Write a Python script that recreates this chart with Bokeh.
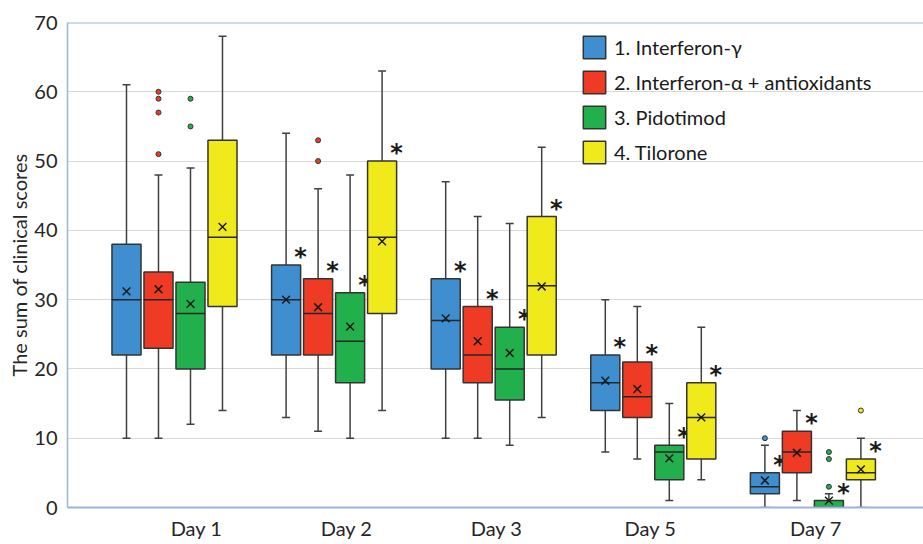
from bokeh.plotting import figure
from bokeh.models import (ColumnDataSource, Legend, LegendItem, FixedTicker,
                          SingleIntervalTicker, Span, Range1d)
from bokeh.core.properties import value
from bokeh.embed import file_html
from bokeh.resources import INLINE

# ---- data -------------------------------------------------------------
days = ["Day 1", "Day 2", "Day 3", "Day 5", "Day 7"]
groups = ["1. Interferon-γ", "2. Interferon-α + antioxidants",
          "3. Pidotimod", "4. Tilorone"]
colors = ["#3F8ECF", "#EF3B24", "#22B04C", "#F1EA1A"]

# one row per treatment group, one column per day
whisker_low = [[10, 13, 10, 8, 0],
               [10, 11, 10, 7, 1],
               [12, 10, 9, 1, 0],
               [14, 14, 13, 4, 0]]
q1 = [[22, 22, 20, 14, 2],
      [23, 22, 18, 13, 5],
      [20, 18, 15.5, 4, 0],
      [29, 28, 22, 7, 4]]
median = [[30, 30, 27, 18, 3],
          [30, 28, 22, 16, 8],
          [28, 24, 20, 8, 0],
          [39, 39, 32, 13, 5]]
q3 = [[38, 35, 33, 22, 5],
      [34, 33, 29, 21, 11],
      [32.5, 31, 26, 9, 1],
      [53, 50, 42, 18, 7]]
whisker_high = [[61, 54, 47, 30, 9],
                [48, 46, 42, 29, 14],
                [49, 48, 41, 15, 2],
                [68, 63, 52, 26, 10]]
mean = [[31.2, 30.0, 27.3, 18.3, 3.9],
        [31.5, 28.9, 24.0, 17.1, 7.9],
        [29.4, 26.1, 22.3, 7.1, 1.0],
        [40.5, 38.4, 31.9, 13.0, 5.5]]
# significant difference vs. Day 1 (marked with an asterisk)
significant = [[False, True, True, True, True],
               [False, True, True, True, True],
               [False, True, True, True, True],
               [False, True, True, True, True]]
# outliers: (group index, day index, value)
outlier_group = [1, 1, 1, 1, 2, 2, 1, 1, 0, 2, 2, 2, 3]
outlier_day = [0, 0, 0, 0, 0, 0, 1, 1, 4, 4, 4, 4, 4]
outlier_value = [60, 59, 57, 51, 59, 55, 53, 50, 10, 8, 7, 3, 14]

# ---- layout constants -------------------------------------------------
BOX_STEP = 0.2005   # distance between neighbouring boxes within a day
BOX_W = 0.182
CAP_W = 0.05
LABEL_X = [0.138, 1.078, 2.018, 2.982, 4.019]
FONT = "Lato"
BORDER = "#9DB3DB"
INK = "#262626"


def xpos(g, d):
    return d + (g - 1.5) * BOX_STEP


p = figure(width=923, height=544, output_backend="svg", toolbar_location=None,
           x_range=Range1d(-0.6704, 4.693), y_range=Range1d(0, 70),
           min_border_left=67, min_border_right=0, min_border_top=22,
           min_border_bottom=37)
p.outline_line_color = None
p.background_fill_color = "white"
p.border_fill_color = "white"

p.xgrid.grid_line_color = None
p.ygrid.grid_line_color = "#D9D9D9"
p.ygrid.grid_line_width = 1
p.yaxis.ticker = SingleIntervalTicker(interval=10)

p.yaxis.axis_label = "The sum of clinical scores"
p.yaxis.axis_label_text_font = FONT
p.yaxis.axis_label_text_font_size = "20px"
p.yaxis.axis_label_text_font_style = "normal"
p.yaxis.axis_label_text_color = INK
p.yaxis.axis_label_standoff = 0
p.yaxis.major_label_text_font = FONT
p.yaxis.major_label_text_font_size = "20px"
p.yaxis.major_label_text_color = INK
p.yaxis.axis_line_color = BORDER
p.yaxis.axis_line_width = 1.5
p.yaxis.major_tick_line_color = None
p.yaxis.minor_tick_line_color = None
p.yaxis.major_tick_out = 0
p.yaxis.major_tick_in = 0
p.yaxis.major_label_standoff = 6

p.xaxis.ticker = FixedTicker(ticks=LABEL_X)
p.xaxis.major_label_overrides = {t: d for t, d in zip(LABEL_X, days)}
p.xaxis.major_label_text_font = FONT
p.xaxis.major_label_text_font_size = "20px"
p.xaxis.major_label_text_color = INK
p.xaxis.axis_line_color = BORDER
p.xaxis.axis_line_width = 2
p.xaxis.major_tick_line_color = None
p.xaxis.minor_tick_line_color = None
p.xaxis.major_tick_out = 0
p.xaxis.major_tick_in = 0
p.xaxis.major_label_standoff = 8

p.add_layout(Span(location=70, dimension="width", line_color=BORDER,
                  line_width=2))

legend_items = []
for g in range(len(groups)):
    xs = [xpos(g, d) for d in range(len(days))]
    src = ColumnDataSource(dict(
        x=xs, lo=whisker_low[g], q1=q1[g], med=median[g], q3=q3[g],
        hi=whisker_high[g], mean=mean[g],
        cl=[x - CAP_W / 2 for x in xs], cr=[x + CAP_W / 2 for x in xs],
        bl=[x - BOX_W / 2 for x in xs], br=[x + BOX_W / 2 for x in xs],
    ))
    # whiskers and caps
    p.segment("x", "lo", "x", "q1", source=src, line_color="#404040", line_width=1.5)
    p.segment("x", "q3", "x", "hi", source=src, line_color="#404040", line_width=1.5)
    p.segment("cl", "lo", "cr", "lo", source=src, line_color="#404040", line_width=1.5)
    p.segment("cl", "hi", "cr", "hi", source=src, line_color="#404040", line_width=1.5)
    # box
    box = p.vbar(x="x", width=BOX_W, bottom="q1", top="q3", source=src,
                 fill_color=colors[g], line_color="#333333", line_width=1.5)
    # median and mean
    p.segment("bl", "med", "br", "med", source=src, line_color="#262626", line_width=1.5)
    p.scatter("x", "mean", source=src, marker="x", size=11,
              line_color="#1A1A1A", line_width=1.5)
    legend_items.append(LegendItem(label=groups[g], renderers=[box]))

    # asterisks for significant changes
    sx = [xpos(g, d) + BOX_W / 2 for d in range(len(days)) if significant[g][d]]
    sy = [q3[g][d] for d in range(len(days)) if significant[g][d]]
    p.text(x=sx, y=sy, text=["*"] * len(sx), text_font=value("DejaVu Sans"),
           text_font_style="bold", text_font_size="24px", text_color="#1A1A1A",
           text_align="center", text_baseline="alphabetic",
           x_offset=0, y_offset=-8)

# outliers
ox = [xpos(g, d) for g, d in zip(outlier_group, outlier_day)]
oc = [colors[g] for g in outlier_group]
p.scatter(ox, outlier_value, marker="circle", size=5, fill_color=oc,
          line_color="#333333", line_width=1)

legend = Legend(items=legend_items, location=(513, 341), orientation="vertical",
                glyph_width=28, glyph_height=28, spacing=7, padding=0,
                label_standoff=6, label_text_font=FONT, label_height=28,
                label_text_font_size="20px", label_text_color="#1A1A1A",
                border_line_color=None, background_fill_alpha=0)
p.add_layout(legend)

open("out.html", "w").write(file_html(p, INLINE))
